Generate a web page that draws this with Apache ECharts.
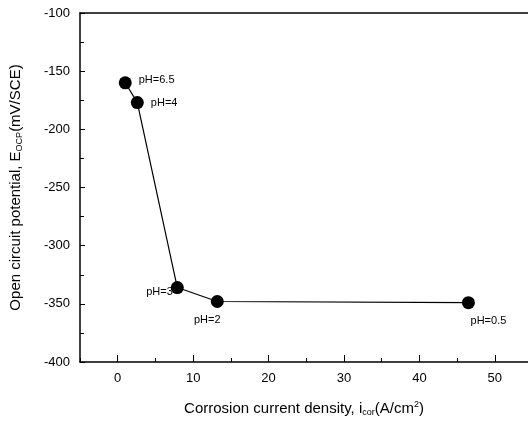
<!DOCTYPE html>
<html>
<head>
<meta charset="utf-8">
<script src="https://cdn.jsdelivr.net/npm/echarts@6/dist/echarts.min.js"></script>
<style>
  html, body { margin: 0; padding: 0; background: #fff; }
  #chart { width: 528px; height: 424px; }
</style>
</head>
<body>
<div id="chart"></div>
<script>
// values
var currentDensity = [1.0, 2.6, 7.9, 13.2, 46.5];
var potential = [-160, -177, -336, -348, -349];
var phLabels = ['pH=6.5', 'pH=4', 'pH=3', 'pH=2', 'pH=0.5'];
var xTicks = [0, 10, 20, 30, 40, 50];
var labelPos = ['right', 'right', 'left', 'bottom', 'bottom'];
var labelOffset = [[2, -3], [2, 0], [7, 4], [-10, 1], [20, 1]];

var pts = currentDensity.map(function (x, i) {
  return {
    value: [x, potential[i]],
    label: { position: labelPos[i], offset: labelOffset[i] }
  };
});

var font = 'Liberation Sans, Arial, sans-serif';
var chart = echarts.init(document.getElementById('chart'));
chart.setOption({
  animation: false,
  grid: { left: 80, top: 13, right: 0, bottom: 62 },
  xAxis: [{
    type: 'value',
    min: -5, max: 54.4,
    axisLine: { onZero: false, lineStyle: { color: '#000', width: 1.5 } },
    axisTick: { inside: true, length: 7, customValues: xTicks, lineStyle: { color: '#000' } },
    splitLine: { show: false },
    axisLabel: {
      color: '#000', fontFamily: font, fontSize: 13, margin: 10,
      customValues: xTicks
    },
    name: '{t|Corrosion current density, i}{s|cor}{t|(A/cm}{p|2}{t|)}',
    nameLocation: 'middle',
    nameGap: 38,
    nameTextStyle: {
      rich: {
        t: { fontFamily: font, fontSize: 15, color: '#000' },
        s: { fontFamily: font, fontSize: 9, color: '#000', verticalAlign: 'bottom', padding: [8, 0, 0, 0] },
        p: { fontFamily: font, fontSize: 9, color: '#000', verticalAlign: 'top', padding: [0, 0, 8, 0] }
      }
    }
  }, {
    // minor ticks every 5
    type: 'value',
    position: 'bottom',
    min: -5, max: 54.4, interval: 5,
    axisLine: { show: false },
    axisTick: { inside: true, length: 4, lineStyle: { color: '#000' } },
    axisLabel: { show: false },
    splitLine: { show: false }
  }, {
    // top frame line
    type: 'value',
    position: 'top',
    min: -5, max: 54.4,
    axisLine: { show: true, lineStyle: { color: '#000', width: 1.5 } },
    axisTick: { show: false },
    axisLabel: { show: false },
    splitLine: { show: false }
  }],
  yAxis: {
    type: 'value',
    min: -400, max: -100, interval: 50,
    axisLine: { onZero: false, lineStyle: { color: '#000', width: 1.5 } },
    axisTick: { inside: true, length: 5, lineStyle: { color: '#000' } },
    minorTick: { show: true, splitNumber: 2, length: 4, lineStyle: { color: '#000' } },
    splitLine: { show: false },
    axisLabel: { color: '#000', fontFamily: font, fontSize: 13, margin: 10 },
    name: '{t|Open circuit potential, E}{s|OCP}{t|(mV/SCE)}',
    nameLocation: 'middle',
    nameGap: 56,
    nameTextStyle: {
      rich: {
        t: { fontFamily: font, fontSize: 15, color: '#000' },
        s: { fontFamily: font, fontSize: 9, color: '#000', verticalAlign: 'bottom', padding: [8, 0, 0, 0] }
      }
    }
  },
  series: [{
    type: 'line',
    data: pts,
    symbol: 'circle',
    symbolSize: 13,
    itemStyle: { color: '#000' },
    lineStyle: { color: '#000', width: 1.2 },
    label: {
      show: true,
      color: '#000',
      fontFamily: font,
      fontSize: 11,
      formatter: function (p) { return phLabels[p.dataIndex]; }
    }
  }]
});
</script>
</body>
</html>
